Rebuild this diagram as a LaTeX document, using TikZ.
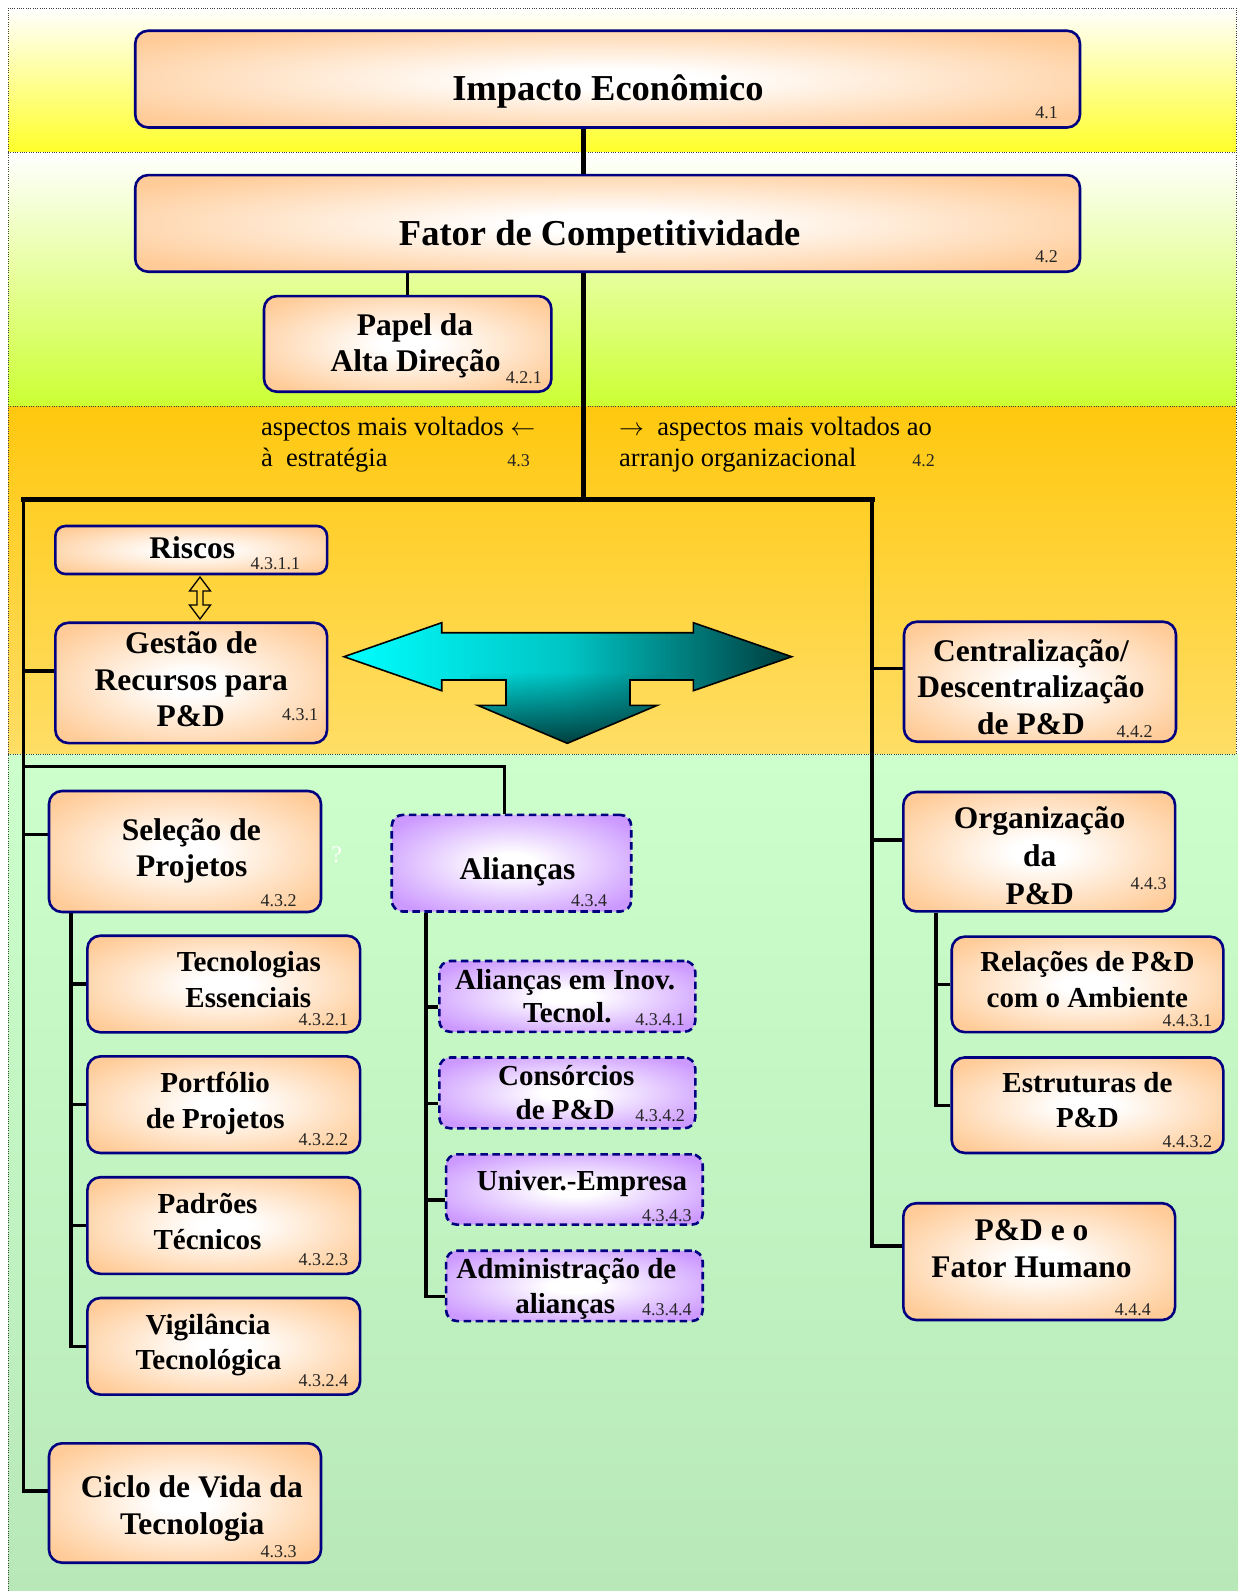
\documentclass[tikz,border=0pt]{standalone}
\usepackage{fontspec}
\setmainfont{Liberation Serif}
\usetikzlibrary{fadings}

\definecolor{peach}{HTML}{FFCC99}
\definecolor{lilac}{HTML}{CC99FF}
\definecolor{navyline}{HTML}{000080}
\definecolor{bandAbot}{HTML}{FFFF2A}
\definecolor{bandBbot}{HTML}{CCFF33}
\definecolor{bandCtop}{HTML}{FFC80F}
\definecolor{bandCbot}{HTML}{FFDE66}
\definecolor{bandDtop}{HTML}{CCFFCC}
\definecolor{bandDbot}{HTML}{B8E8B8}
\definecolor{arrowlight}{HTML}{00FFFF}
\definecolor{arrowmid}{HTML}{00C4C4}
\definecolor{arrowdark}{HTML}{003C3C}

% soft glow fills for the boxes
\pgfdeclareradialshading{peachglow}{\pgfpoint{0bp}{0bp}}{color(0bp)=(white); color(5bp)=(white); color(31bp)=(peach); color(50bp)=(peach)}
\pgfdeclareradialshading{lilacglow}{\pgfpoint{0bp}{0bp}}{color(0bp)=(white); color(5bp)=(white); color(31bp)=(lilac); color(50bp)=(lilac)}

% connectors and bands go underneath the boxes
\pgfdeclarelayer{background}
\pgfsetlayers{background,main}

\tikzset{
  obox/.style={draw=navyline, line width=2.6pt, rounded corners=13pt, shade, shading=peachglow, inner sep=0pt},
  lbox/.style={draw=navyline, line width=2.6pt, dash pattern=on 7.5pt off 4.5pt, rounded corners=11pt, shade, shading=lilacglow, inner sep=0pt},
  txttitle/.style={font=\bfseries\fontsize{36.5}{40}\selectfont, anchor=base, inner sep=0pt},
  txtmain/.style={font=\bfseries\fontsize{31.5}{36}\selectfont, anchor=base, inner sep=0pt},
  txtsub/.style={font=\bfseries\fontsize{29}{33}\selectfont, anchor=base, inner sep=0pt},
  txtnum/.style={font=\fontsize{18}{20}\selectfont, anchor=base east, inner sep=0pt, text=black!85},
  txtnote/.style={font=\fontsize{26.5}{30}\selectfont, anchor=base west, inner sep=0pt},
  heavy/.style={line width=5pt, line cap=rect},
  trunk/.style={line width=3.5pt},
  branch/.style={line width=3.3pt},
  dotline/.style={line width=0.7pt, dash pattern=on 0.7pt off 1.6pt, draw=black!75},
}

\begin{document}
\begin{tikzpicture}[x=1pt, y=-1pt]
\useasboundingbox (0,0) rectangle (1238,1591);

% ---------- boxes ----------
\node[obox, minimum width=944.8pt, minimum height=96.8pt] (imp) at (607.6,79.1) {};
\node[obox, minimum width=944.8pt, minimum height=96.7pt] (fat) at (607.6,223.4) {};
\node[obox, minimum width=287.4pt, minimum height=95.7pt] (pap) at (407.7,343.9) {};
\node[obox, minimum width=271.7pt, minimum height=48pt, rounded corners=10pt] (ris) at (191.2,550) {};
\node[obox, minimum width=271.7pt, minimum height=120.3pt] (ges) at (191.2,682.9) {};
\node[obox, minimum width=272pt, minimum height=120pt] (cen) at (1040,681.7) {};
\node[obox, minimum width=272pt, minimum height=121pt] (sel) at (185,851.5) {};
\node[lbox, minimum width=239.5pt, minimum height=96.6pt] (ali) at (511.5,863.2) {};
\node[obox, minimum width=272.7pt, minimum height=96.6pt] (tec) at (223.7,984) {};
\node[obox, minimum width=272.7pt, minimum height=96.6pt] (por) at (223.7,1104.7) {};
\node[obox, minimum width=272.7pt, minimum height=96.6pt] (pad) at (223.7,1225.5) {};
\node[obox, minimum width=272.7pt, minimum height=96.6pt] (vig) at (223.7,1346.3) {};
\node[obox, minimum width=272pt, minimum height=119.4pt] (cic) at (185,1503) {};
\node[lbox, minimum width=256pt, minimum height=70.8pt] (ino) at (567.3,996.4) {};
\node[lbox, minimum width=256pt, minimum height=70.8pt] (con) at (567.3,1092.9) {};
\node[lbox, minimum width=256.7pt, minimum height=70.3pt] (uni) at (574.4,1189.5) {};
\node[lbox, minimum width=256.7pt, minimum height=70.3pt] (adm) at (574.4,1285.9) {};
\node[obox, minimum width=271.7pt, minimum height=119.4pt] (org) at (1039.2,851.7) {};
\node[obox, minimum width=271.6pt, minimum height=95.5pt] (rel) at (1087.5,984.4) {};
\node[obox, minimum width=271.6pt, minimum height=95.5pt] (est) at (1087.5,1105.2) {};
\node[obox, minimum width=271.7pt, minimum height=116.8pt] (hum) at (1039.2,1261.6) {};

% ---------- junction points ----------
\coordinate (hub) at (583.5,499);
\coordinate (lft) at (23.5,499);
\coordinate (rgt) at (872,499);
\coordinate (alk) at (504,766.7);
\coordinate (sx) at (71,912);
\coordinate (ax) at (426,912);
\coordinate (ox) at (936,912);
\coordinate (ges-in) at ([yshift=12pt]ges.west);
\coordinate (cen-in) at ([yshift=13.4pt]cen.west);
\coordinate (sel-in) at ([yshift=17pt]sel.west);
\coordinate (cic-in) at ([yshift=12pt]cic.west);
\coordinate (org-in) at ([yshift=11.7pt]org.west);
\coordinate (hum-in) at ([yshift=15.6pt]hum.west);
\coordinate (ino-in) at ([yshift=-10.6pt]ino.west);
\coordinate (con-in) at ([yshift=-10.6pt]con.west);
\coordinate (uni-in) at ([yshift=-10.6pt]uni.west);
\coordinate (adm-in) at ([yshift=-10.6pt]adm.west);

\begin{pgfonlayer}{background}
% background bands
\fill[white] (0,0) rectangle (1238,1591);
\shade[top color=white, bottom color=bandAbot] (8,8) rectangle (1236,152.2);
\shade[top color=white, bottom color=bandBbot] (8,152.2) rectangle (1236,406);
\shade[top color=bandCtop, bottom color=bandCbot] (8,406) rectangle (1236,754);
\shade[top color=bandDtop, bottom color=bandDbot] (8,754) rectangle (1238,1591);
\draw[dotline] (8,1591) -- (8,8) -- (1236,8) -- (1236,754);
\draw[dotline] (8,152.2) -- (1236,152.2);
\draw[dotline] (8,406) -- (1236,406);
\draw[dotline] (8,754) -- (1236,754);

% main spine
\draw[heavy] (imp.south -| hub) -- (fat.north -| hub);
\draw[heavy] (fat.south -| hub) -- (hub);
\draw[line width=3pt] (fat.south -| pap.north) -- (pap.north);
\draw[heavy] (lft) -- (rgt);
\draw[trunk] (lft) |- (cic-in);
\draw[trunk] (rgt) |- (hum-in);
\draw[branch] (ges-in -| lft) -- (ges-in);
\draw[branch] (cen-in -| rgt) -- (cen-in);
\draw[branch] (sel-in -| lft) -- (sel-in);
\draw[branch] (org-in -| rgt) -- (org-in);
\draw[line width=3pt] (alk -| lft) -- (alk) -- (alk |- ali.north);
% sub-branches of Selecao de Projetos
\draw[branch] (sel.south -| sx) |- (vig.west);
\draw[branch] (sx |- tec.west) -- (tec.west);
\draw[branch] (sx |- por.west) -- (por.west);
\draw[branch] (sx |- pad.west) -- (pad.west);
% sub-branches of Aliancas
\draw[branch] (ali.south -| ax) |- (adm-in);
\draw[branch] (ax |- ino-in) -- (ino-in);
\draw[branch] (ax |- con-in) -- (con-in);
\draw[branch] (ax |- uni-in) -- (uni-in);
% sub-branches of Organizacao da P&D
\draw[branch] (org.south -| ox) |- (est.west);
\draw[branch] (ox |- rel.west) -- (rel.west);
\end{pgfonlayer}

% ---------- the three-way block arrow ----------
\shade[left color=arrowlight, right color=arrowdark, middle color=arrowmid]
  (344,656.7) -- (441.7,622.7) -- (441.7,632.7) -- (693.3,632.7) -- (693.3,622.7)
  -- (791.7,656.7) -- (693.3,690.7) -- (693.3,680) -- (630,680) -- (630,705.3)
  -- (657.3,705.3) -- (567.3,743.3) -- (477.7,705.3) -- (506,705.3) -- (506,680)
  -- (441.7,680) -- (441.7,690.7) -- cycle;
\begin{scope}
  \clip (344,656.7) -- (441.7,622.7) -- (441.7,632.7) -- (693.3,632.7) -- (693.3,622.7)
  -- (791.7,656.7) -- (693.3,690.7) -- (693.3,680) -- (630,680) -- (630,705.3)
  -- (657.3,705.3) -- (567.3,743.3) -- (477.7,705.3) -- (506,705.3) -- (506,680)
  -- (441.7,680) -- (441.7,690.7) -- cycle;
  \fill[arrowdark, path fading=north] (470,672) rectangle (665,745);
\end{scope}
\draw[line width=1.6pt, line join=miter]
  (344,656.7) -- (441.7,622.7) -- (441.7,632.7) -- (693.3,632.7) -- (693.3,622.7)
  -- (791.7,656.7) -- (693.3,690.7) -- (693.3,680) -- (630,680) -- (630,705.3)
  -- (657.3,705.3) -- (567.3,743.3) -- (477.7,705.3) -- (506,705.3) -- (506,680)
  -- (441.7,680) -- (441.7,690.7) -- cycle;

% hollow double arrow between Riscos and Gestao
\draw[line width=1.3pt, line join=miter]
  (200,577) -- (210.5,591) -- (203,591) -- (203,605) -- (210.5,605) -- (200,619)
  -- (189.5,605) -- (197,605) -- (197,591) -- (189.5,591) -- cycle;

% ---------- texts ----------
\node[txttitle] (imp-t) at (607.9,100) {Impacto Econômico};
\node[txtnum] (imp-n) at (1058,118.3) {4.1};
\node[txttitle] (fat-t) at (599.7,245.7) {Fator de Competitividade};
\node[txtnum] (fat-n) at (1058,262.3) {4.2};

\node[txtmain] (pap-t1) at (415,335) {Papel da};
\node[txtmain] (pap-t2) at (415.6,371.7) {Alta Direção};
\node[txtnum] (pap-n) at (542,383.3) {4.2.1};

\node[txtnote] (nl-1) at (260.8,435) {aspectos mais voltados $\leftarrow$};
\node[txtnote] (nl-2) at (260.8,466) {à\ \ estratégia};
\node[txtnum] (nl-n) at (530,466.7) {4.3};
\node[txtnote] (nr-1) at (619,435) {$\rightarrow$\ \ aspectos mais voltados ao};
\node[txtnote] (nr-2) at (619,466) {arranjo organizacional};
\node[txtnum] (nr-n) at (935,466.7) {4.2};

\node[txtmain] (ris-t) at (192.3,558.3) {Riscos};
\node[txtnum] (ris-n) at (300.4,569) {4.3.1.1};

\node[txtmain] (ges-t1) at (191.3,653.3) {Gestão de};
\node[txtmain] (ges-t2) at (191.3,690) {Recursos para};
\node[txtmain] (ges-t3) at (190.8,726) {P\&D};
\node[txtnum] (ges-n) at (318.2,720.7) {4.3.1};

\node[txtmain] (cen-t1) at (1031,661.7) {Centralização/};
\node[txtmain] (cen-t2) at (1031,697.7) {Descentralização};
\node[txtmain] (cen-t3) at (1031,734.3) {de P\&D};
\node[txtnum] (cen-n) at (1152.8,737.3) {4.4.2};

\node[txtmain] (sel-t1) at (191.3,840) {Seleção de};
\node[txtmain] (sel-t2) at (191.8,876.7) {Projetos};
\node[txtnum] (sel-n) at (296.7,906.7) {4.3.2};
\node[font=\fontsize{24}{24}\selectfont, text=white, anchor=base, inner sep=0pt] (qm) at (336.7,862.5) {?};

\node[txtmain] (ali-t) at (517.5,879.3) {Alianças};
\node[txtnum] (ali-n) at (607.3,906.8) {4.3.4};

\node[txtsub] (tec-t1) at (248.8,971.7) {Tecnologias};
\node[txtsub] (tec-t2) at (248.3,1007.7) {Essenciais};
\node[txtnum] (tec-n) at (348.3,1025.7) {4.3.2.1};
\node[txtsub] (por-t1) at (215.2,1092.7) {Portfólio};
\node[txtsub] (por-t2) at (215.3,1128.3) {de Projetos};
\node[txtnum] (por-n) at (348.3,1145.7) {4.3.2.2};
\node[txtsub] (pad-t1) at (207.5,1213.2) {Padrões};
\node[txtsub] (pad-t2) at (207.5,1249.2) {Técnicos};
\node[txtnum] (pad-n) at (348.3,1265.7) {4.3.2.3};
\node[txtsub] (vig-t1) at (208,1334.5) {Vigilância};
\node[txtsub] (vig-t2) at (208.5,1369.5) {Tecnológica};
\node[txtnum] (vig-n) at (348.3,1386.7) {4.3.2.4};

\node[txtmain] (cic-t1) at (191.8,1497.7) {Ciclo de Vida da};
\node[txtmain] (cic-t2) at (192.3,1534.3) {Tecnologia};
\node[txtnum] (cic-n) at (296.7,1557.7) {4.3.3};

\node[txtsub] (ino-t1) at (565.2,989.6) {Alianças em Inov.};
\node[txtsub] (ino-t2) at (567.3,1022.9) {Tecnol.};
\node[txtnum] (ino-n) at (685,1025.7) {4.3.4.1};
\node[txtsub] (con-t1) at (566.3,1085.4) {Consórcios};
\node[txtsub] (con-t2) at (565.2,1119.3) {de P\&D};
\node[txtnum] (con-n) at (685,1121.8) {4.3.4.2};
\node[txtsub] (uni-t) at (582,1190.7) {Univer.-Empresa};
\node[txtnum] (uni-n) at (691.7,1221) {4.3.4.3};
\node[txtsub] (adm-t1) at (566.3,1278.2) {Administração de};
\node[txtsub] (adm-t2) at (565.2,1313.2) {alianças};
\node[txtnum] (adm-n) at (691.7,1315.7) {4.3.4.4};

\node[txtmain] (org-t1) at (1039.7,828.9) {Organização};
\node[txtmain] (org-t2) at (1039.7,866.8) {da};
\node[txtmain] (org-t3) at (1039.7,904.3) {P\&D};
\node[txtnum] (org-n) at (1166.7,889.6) {4.4.3};

\node[txtsub] (rel-t1) at (1087.4,971.8) {Relações de P\&D};
\node[txtsub] (rel-t2) at (1087.4,1007.1) {com o Ambiente};
\node[txtnum] (rel-n) at (1212.3,1026.4) {4.4.3.1};
\node[txtsub] (est-t1) at (1087.4,1092.5) {Estruturas de};
\node[txtsub] (est-t2) at (1087.4,1127.5) {P\&D};
\node[txtnum] (est-n) at (1212.3,1147.1) {4.4.3.2};

\node[txtmain] (hum-t1) at (1031.5,1240) {P\&D e o};
\node[txtmain] (hum-t2) at (1031.5,1277.5) {Fator Humano};
\node[txtnum] (hum-n) at (1151,1315.7) {4.4.4};
\end{tikzpicture}
\end{document}
